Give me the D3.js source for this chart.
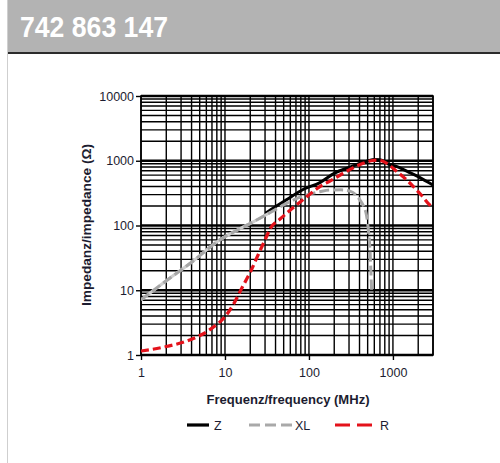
<!DOCTYPE html>
<html>
<head>
<meta charset="utf-8">
<script src="https://cdn.jsdelivr.net/npm/d3@7"></script>
<style>
  html, body { margin: 0; padding: 0; background: #fff; }
  svg { display: block; }
  text { font-family: "Liberation Sans Narrow", "Liberation Sans", Arial, sans-serif; }
</style>
</head>
<body>
<svg id="chart" width="500" height="463"></svg>
<script>
// Part number shown in the header band
const partNumber = "742 863 147";

// Axis ticks
const xTicks = [1, 10, 100, 1000];
const yTicks = [1, 10, 100, 1000, 10000];

// |Z| impedance curve (MHz, Ohm)
const zFreq = [1, 2, 4, 8.7, 14, 21.7, 35, 54, 85, 135, 200, 300, 400, 500, 600, 700, 900, 1100, 1500, 2000, 2760, 3000];
const zVal  = [7.1, 14, 27, 60, 86, 116, 175, 250, 360, 460, 640, 790, 910, 990, 1045, 1040, 880, 820, 680, 570, 448, 420];

// Inductive reactance XL (MHz, Ohm)
const xlFreq = [1, 2, 4, 8.7, 14, 21.7, 35, 54, 85, 135, 178, 240, 308, 360, 405, 450, 486, 515, 533, 557];
const xlVal  = [7.1, 14, 27, 60, 85, 114, 160, 220, 285, 333, 353, 355, 340, 300, 247, 195, 140, 75, 42, 10];

// Resistance R (MHz, Ohm)
const rFreq = [1, 2, 4, 7, 10, 13, 16, 20, 25, 30, 35, 45, 60, 80, 100, 135, 180, 250, 350, 450, 550, 640, 750, 900, 1100, 1400, 1750, 2200, 2750, 3000];
const rVal  = [1.15, 1.35, 1.75, 2.6, 3.9, 6.5, 11, 19, 36, 60, 92, 125, 173, 235, 296, 398, 490, 630, 800, 920, 1000, 1025, 990, 860, 690, 530, 400, 290, 207, 190];

// Below this frequency Z and XL coincide; XL is drawn over it there
const overlapEnd = 30;

// Legend entries
const legendLabels = ["Z", "XL", "R"];

const svg = d3.select("#chart");
const textColor = "#1c1c30";

// Header band
svg.append("rect").attr("x", 7).attr("y", 0).attr("width", 493).attr("height", 52).attr("fill", "#b3b3b3");
svg.append("line").attr("x1", 7).attr("x2", 500).attr("y1", 53).attr("y2", 53)
  .attr("stroke", "#2b2b2b").attr("stroke-width", 2);
svg.append("line").attr("x1", 7.5).attr("x2", 7.5).attr("y1", 0).attr("y2", 463)
  .attr("stroke", "#cfcfcf").attr("stroke-width", 1);
svg.append("text").attr("x", 20).attr("y", 37)
  .attr("fill", "#ffffff").attr("font-weight", "bold").attr("font-size", 30)
  .attr("textLength", 148).attr("lengthAdjust", "spacingAndGlyphs")
  .text(partNumber);

// Plot area
const plotLeft = 141, plotRight = 433, plotTop = 96, plotBottom = 355;
const x = d3.scaleLog().domain([1, 3000]).range([plotLeft, plotRight]);
const y = d3.scaleLog().domain([1, 10000]).range([plotBottom, plotTop]);

// Log grid: 1..9 in every decade
const gridX = [], gridY = [];
for (let e = 0; e <= 3; e++) for (let m = 1; m <= 9; m++) {
  const v = m * Math.pow(10, e);
  if (v <= 3000) gridX.push(v);
  gridY.push(v);
}
gridY.push(10000);

const grid = svg.append("g");
grid.selectAll(".gx").data(gridX).join("line")
  .attr("x1", d => x(d)).attr("x2", d => x(d)).attr("y1", plotTop).attr("y2", plotBottom)
  .attr("stroke", "#000").attr("stroke-width", 1.4);
grid.selectAll(".gy").data(gridY).join("line")
  .attr("x1", plotLeft).attr("x2", plotRight).attr("y1", d => y(d)).attr("y2", d => y(d))
  .attr("stroke", "#000")
  .attr("stroke-width", d => yTicks.includes(d) ? 2.6 : 1.4);
svg.append("rect").attr("x", plotLeft).attr("y", plotTop)
  .attr("width", plotRight - plotLeft).attr("height", plotBottom - plotTop)
  .attr("fill", "none").attr("stroke", "#000").attr("stroke-width", 1.6);

// Axes
const xAxis = svg.append("g").attr("transform", `translate(0,${plotBottom})`)
  .call(d3.axisBottom(x).tickValues(xTicks).tickFormat(d3.format("d")).tickSize(5).tickPadding(8));
const yAxis = svg.append("g").attr("transform", `translate(${plotLeft},0)`)
  .call(d3.axisLeft(y).tickValues(yTicks).tickFormat(d3.format("d")).tickSize(5).tickPadding(2));
[xAxis, yAxis].forEach(a => {
  a.select(".domain").remove();
  a.selectAll(".tick line").attr("stroke", "#000").attr("stroke-width", 1.4);
  a.selectAll(".tick text").attr("fill", textColor).attr("font-size", 12.5)
    .attr("font-family", "'Liberation Sans', Arial, sans-serif");
});

// Axis titles
svg.append("text").attr("x", 288).attr("y", 404).attr("text-anchor", "middle")
  .attr("font-weight", "bold").attr("font-size", 13).attr("fill", textColor)
  .attr("textLength", 163).attr("lengthAdjust", "spacingAndGlyphs")
  .text("Frequenz/frequency (MHz)");
svg.append("text").attr("transform", "translate(91,225) rotate(-90)").attr("text-anchor", "middle")
  .attr("font-weight", "bold").attr("font-size", 13).attr("fill", textColor)
  .attr("textLength", 162).attr("lengthAdjust", "spacingAndGlyphs")
  .text("Impedanz/impedance (\u03A9)");

// Curves
const line = d3.line().x(d => x(d[0])).y(d => y(d[1])).curve(d3.curveMonotoneX);
const defs = svg.append("defs");
defs.append("clipPath").attr("id", "plotClip")
  .append("rect").attr("x", plotLeft).attr("y", plotTop)
  .attr("width", plotRight - plotLeft).attr("height", plotBottom - plotTop);
defs.append("clipPath").attr("id", "zClip")
  .append("rect").attr("x", x(overlapEnd)).attr("y", plotTop)
  .attr("width", plotRight - x(overlapEnd)).attr("height", plotBottom - plotTop);
const curves = svg.append("g").attr("clip-path", "url(#plotClip)");

curves.append("path").datum(d3.zip(zFreq, zVal)).attr("d", line)
  .attr("clip-path", "url(#zClip)")
  .attr("fill", "none").attr("stroke", "#000").attr("stroke-width", 3);
// light under-stroke where XL lies on top of Z
const xlPts = d3.zip(xlFreq, xlVal);
curves.append("path").datum(xlPts.filter(d => d[0] <= overlapEnd + 5)).attr("d", line)
  .attr("fill", "none").attr("stroke", "#cdcdcd").attr("stroke-width", 3);
curves.append("path").datum(xlPts).attr("d", line)
  .attr("fill", "none").attr("stroke", "#a6a6a6").attr("stroke-width", 3)
  .attr("stroke-dasharray", "10,4");
curves.append("path").datum(d3.zip(rFreq, rVal)).attr("d", line)
  .attr("fill", "none").attr("stroke", "#e4121b").attr("stroke-width", 3.2)
  .attr("stroke-dasharray", "8,4");

// Legend
const legendY = 425;
const legendItems = [
  { label: legendLabels[0], x1: 187, x2: 209, tx: 214, color: "#000", dash: null },
  { label: legendLabels[1], x1: 249, x2: 293, tx: 295, color: "#a9a9a9", dash: "11,5" },
  { label: legendLabels[2], x1: 335, x2: 373, tx: 380, color: "#e4121b", dash: "15,7" }
];
const lg = svg.append("g");
legendItems.forEach(it => {
  lg.append("line").attr("x1", it.x1).attr("x2", it.x2).attr("y1", legendY).attr("y2", legendY)
    .attr("stroke", it.color).attr("stroke-width", 3.2)
    .attr("stroke-dasharray", it.dash);
  lg.append("text").attr("x", it.tx).attr("y", legendY + 4.5)
    .attr("font-size", 12.5).attr("fill", textColor).text(it.label);
});
</script>
</body>
</html>
